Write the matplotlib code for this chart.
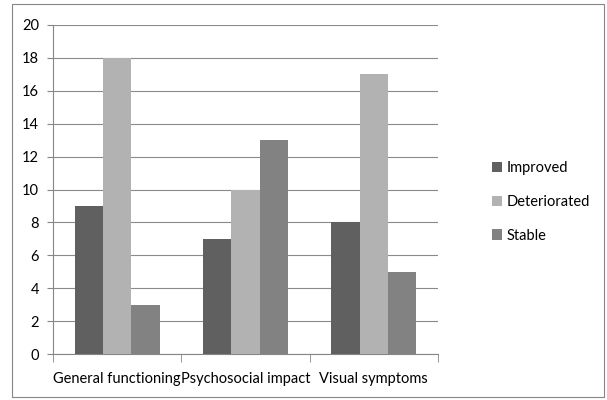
import matplotlib
matplotlib.use("Agg")
import matplotlib.pyplot as plt
import numpy as np
from matplotlib.patches import Rectangle

categories = ["General functioning", "Psychosocial impact", "Visual symptoms"]
series_names = ["Improved", "Deteriorated", "Stable"]
improved = [9, 7, 8]
deteriorated = [18, 10, 17]
stable = [3, 13, 5]
colors = ["#606060", "#b2b2b2", "#828282"]

plt.rcParams['font.family'] = ['Lato', 'DejaVu Sans']

fig = plt.figure(figsize=(6.07, 4.0), dpi=100)
fig.patches.append(Rectangle((12/607, 3/400), 592/607, 393/400, transform=fig.transFigure,
                             fill=False, edgecolor="#868686", linewidth=0.8))
ax = fig.add_axes([53/607, 46/400, 385/607, 329/400])

x = np.arange(len(categories))
w = 0.22
for i, (vals, name, c) in enumerate(zip([improved, deteriorated, stable], series_names, colors)):
    ax.bar(x + (i - 1) * w, vals, width=w, color=c, label=name, zorder=3)

ax.set_xlim(-0.5, 2.5)
ax.set_ylim(0, 20)
ax.set_yticks(range(0, 21, 2))
ax.yaxis.grid(True, color="#8a8a8a", linewidth=0.8, zorder=0)
for s in ["top", "right"]:
    ax.spines[s].set_visible(False)
for s in ["left", "bottom"]:
    ax.spines[s].set_color("#868686")
ax.set_xticks(x)
ax.set_xticklabels(categories)
ax.set_xticks([-0.5, 0.5, 1.5, 2.5], minor=True)
ax.tick_params(axis="x", which="major", length=0, pad=13, labelsize=10.5)
ax.tick_params(axis="x", which="minor", length=6, color="#868686", direction="out")
ax.tick_params(axis="y", length=4, color="#868686", labelsize=10.5, pad=6)

ax.legend(loc="center left", bbox_to_anchor=(1.105, 0.462), frameon=False, fontsize=10.5,
          handlelength=0.7, handleheight=0.7, handletextpad=0.3, labelspacing=1.35)

fig.savefig("out.png", dpi=100)
